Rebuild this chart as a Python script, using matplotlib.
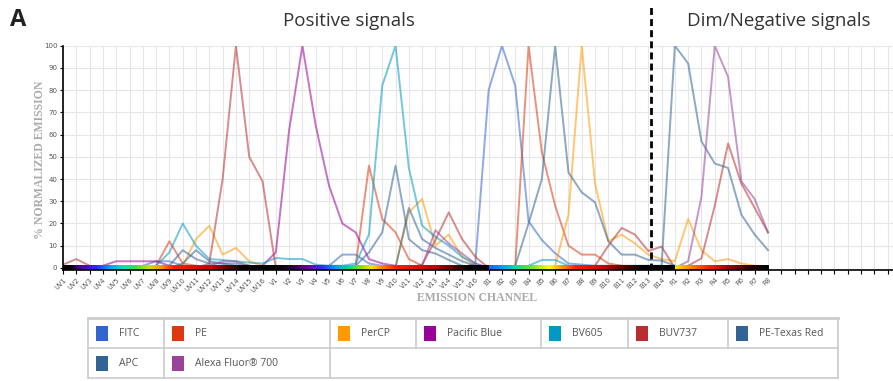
import numpy as np
import matplotlib
matplotlib.use("Agg")
import matplotlib.pyplot as plt
from matplotlib.colors import LinearSegmentedColormap, to_rgb
from matplotlib.patches import Rectangle
from matplotlib.lines import Line2D

# --- channels ---
uv_ch = [f"UV{i}" for i in range(1, 17)]
v_ch = [f"V{i}" for i in range(1, 17)]
b_ch = [f"B{i}" for i in range(1, 15)]
r_ch = [f"R{i}" for i in range(1, 9)]
channels = uv_ch + v_ch + b_ch + r_ch

# --- spectra (% normalized emission), UV | V | B | R ---
fitc = ([0, 0, 0, 0, 0, 0, 1, 3, 3, 1, 0, 0, 0, 0, 0, 0]
        + [0, 0, 0, 0, 1, 6, 6, 2, 1, 0, 0, 0, 0, 0, 0, 2]
        + [80, 100, 82, 21, 12.6, 6.6, 2, 1.5, 1, 1, 1, 1, 1, 1]
        + [0, 0, 0, 0, 0, 0, 0, 0])
pe = ([0, 0, 0, 0, 0, 0, 0, 1, 12, 2, 1, 0, 0, 0, 0, 0]
      + [0, 0, 0, 0, 0, 0, 1, 46, 22, 16, 4, 1, 0, 0, 0, 0]
      + [0, 0, 1, 100, 52, 28, 10, 6, 6, 2, 1, 0, 0, 0]
      + [0, 0, 0, 0, 0, 0, 0, 0])
percp = ([0, 0, 0, 0, 0, 0, 0, 0, 0, 1, 13, 19, 6, 9, 3, 1]
         + [0, 0, 0, 0, 0, 0, 0, 0, 0, 1, 25, 31, 10, 15, 5, 1]
         + [0, 0, 0, 0, 0, 1, 24, 100, 38, 12, 15, 11, 6, 4]
         + [3, 22, 8, 3, 4, 2, 1, 0])
pacific_blue = ([0, 0, 0, 1, 3, 3, 3, 3, 1, 0, 0, 0, 0, 0, 0, 1]
                + [7, 62, 100, 64, 37, 20, 16, 4, 2, 1, 0, 0, 0, 0, 0, 0]
                + [0] * 14
                + [0] * 8)
bv605 = ([0, 0, 0, 0, 0, 0, 0, 1, 7, 20, 10, 4, 3.6, 3, 2.4, 2]
         + [4.5, 4, 4, 1.5, 1, 1, 2, 15, 82, 100, 45, 19, 14, 10, 5, 2]
         + [0, 0, 0, 1, 3.6, 3.6, 1, 0, 0, 0, 0, 0, 0, 0]
         + [0] * 8)
buv737 = ([1.5, 4, 1, 0, 0, 0, 0, 0, 0, 0, 0, 2, 40, 100, 50, 39]
          + [0, 0, 0, 0, 0, 0, 0, 0, 0, 0, 0, 1.5, 12.6, 25, 13, 5]
          + [0, 0, 0, 0, 0, 0, 0, 0, 1, 10, 18, 15, 7.6, 9.6]
          + [0, 1, 4.3, 28, 56, 38, 27, 16])
pe_texas_red = ([0, 0, 0, 0, 0, 0, 0, 0, 1, 8, 4, 2, 2, 2, 1, 0]
                + [0, 0, 0, 0, 0, 0, 1, 7, 16, 46, 13, 8, 6.5, 3.6, 1, 0]
                + [0, 0, 1, 20, 40, 100, 43, 34, 29.5, 12, 6, 6, 3.6, 3.3]
                + [1, 0, 0, 0, 0, 0, 0, 0])
apc = ([0, 0, 0, 0, 0, 0, 0, 0, 0, 2, 8, 3, 2, 1, 0, 0]
       + [0, 0, 0, 0, 0, 0, 0, 0, 0, 0, 27, 13, 9, 6, 3, 1]
       + [0, 0, 0, 0, 0, 0, 0, 0, 0, 0, 0, 0, 0, 1]
       + [100, 92, 57, 47, 45, 24, 15, 8])
alexa700 = ([0, 0, 0, 0, 0, 0, 0, 0, 0, 0, 0, 1, 3, 3, 1, 0]
            + [0, 0, 0, 0, 0, 0, 0, 0, 0, 0, 0, 1, 17, 11, 6.5, 2]
            + [0] * 14
            + [0, 3, 32, 100, 86, 39, 31, 16])

names = ["FITC", "PE", "PerCP", "Pacific Blue", "BV605", "BUV737",
         "PE-Texas Red", "APC", "Alexa Fluor® 700"]
series = [fitc, pe, percp, pacific_blue, bv605, buv737, pe_texas_red, apc, alexa700]
colors = ["#3366cc", "#dc3912", "#ff9900", "#990099", "#0099c6", "#b82e2e",
          "#316395", "#316395", "#994499"]

W, H = 893, 381
fig = plt.figure(figsize=(W / 100, H / 100), dpi=100)

def fx(px):
    return px / W

def fy(py):
    return 1 - py / H

ax = fig.add_axes([fx(63), fy(269.5), fx(W - 63), fy(45.7) - fy(269.5)])
x = np.arange(len(channels))

# grid
for i in range(63):
    ax.axvline(i, color="#e6e6e6", lw=0.8, zorder=0)
for v in range(10, 101, 10):
    ax.axhline(v, color="#e6e6e6", lw=0.8, zorder=0)

for s, c in zip(series, colors):
    ax.plot(x, s, color=c, alpha=0.55, lw=1.4, zorder=2)

# spectral colour strip under the curves
segments = [
    (0, 16, [(0, "#000000"), (0.5, "#000000"), (1.3, "#5500a0"), (2.4, "#3020ff"),
             (3.5, "#00a0ff"), (4.5, "#00e0c0"), (5.5, "#40e040"), (6.5, "#d0e000"),
             (7.4, "#ff9000"), (8.3, "#ff2000"), (11, "#d00000"), (12.4, "#600000"),
             (13.4, "#100000"), (16, "#000000")]),
    (16, 32, [(0, "#000000"), (1, "#200030"), (2.5, "#7000b0"), (3.5, "#3030ff"),
              (4.5, "#00a0ff"), (5.5, "#00e080"), (6.5, "#a0e000"), (7.2, "#ffe000"),
              (8, "#ff8000"), (9, "#ff2000"), (12, "#c00000"), (13.5, "#500000"),
              (14.5, "#000000"), (16, "#000000")]),
    (32, 46, [(0, "#2060ff"), (1, "#00a0ff"), (2, "#00e0a0"), (3, "#60e030"),
              (4.5, "#ffff00"), (5.5, "#ff9000"), (6.5, "#ff2000"), (8.5, "#d00000"),
              (10, "#600000"), (11.5, "#000000"), (14, "#000000")]),
    (46, 53, [(0, "#ffe000"), (1, "#ff9000"), (2.5, "#ff2000"), (4, "#a00000"),
              (5.5, "#300000"), (7, "#000000")]),
]
for a, b, stops in segments:
    span = b - a
    cmap = LinearSegmentedColormap.from_list(
        "seg", [(p / span, to_rgb(c)) for p, c in stops])
    grad = np.linspace(0, 1, 400).reshape(1, -1)
    ax.imshow(grad, cmap=cmap, aspect="auto", extent=[a, b, -0.7, 1.4],
              zorder=3, interpolation="bilinear")

ax.set_xlim(0, 62.4)
ax.set_ylim(-0.7, 100)

# dashed separator between positive and dim/negative
ax.plot([44.2, 44.2], [-0.7, 118], color="black", lw=2, ls=(0, (2.5, 1.5)),
        clip_on=False, zorder=5)

for side in ["top", "right"]:
    ax.spines[side].set_visible(False)
ax.spines["left"].set_linewidth(1.2)
ax.spines["bottom"].set_linewidth(1.2)
ax.spines["left"].set_zorder(6)
ax.spines["bottom"].set_zorder(6)

ax.set_xticks(np.arange(63))
ax.set_xticklabels(channels + [""] * (63 - len(channels)), rotation=45,
                   ha="right", rotation_mode="anchor", fontsize=4.8, color="#555555")
ax.set_yticks(np.arange(0, 101, 10))
ax.set_yticklabels([str(v) for v in range(0, 101, 10)], fontsize=5, color="#555555")
ax.tick_params(axis="x", length=3, width=0.8, pad=2)
ax.tick_params(axis="y", length=2, width=0.8, pad=2)

fig.text(fx(40), fy(160), "% NORMALIZED EMISSION", rotation=90, ha="center",
         va="center", family="Liberation Serif", fontweight="bold", fontsize=8.5,
         color="#aaaaaa")
fig.text(fx(477), fy(298), "EMISSION CHANNEL", ha="center", va="center",
         family="Liberation Serif", fontweight="bold", fontsize=8.5, color="#aaaaaa")

fig.text(fx(10), fy(20), "A", ha="left", va="center", fontsize=17,
         fontweight="bold", color="#222222", family="Open Sans")
fig.text(fx(349), fy(21), "Positive signals", ha="center", va="center",
         fontsize=13.5, color="#333333", family="Open Sans")
fig.text(fx(779), fy(21), "Dim/Negative signals", ha="center", va="center",
         fontsize=13.5, color="#333333", family="Open Sans")

# legend table
top, mid, bot = 318, 348, 378
left, right = 88, 838
row1 = [88, 164, 330, 416, 541, 628, 728, 838]
row2 = [88, 164, 330]
bc = "#cccccc"

def hline(x0, x1, y, lw=1.2):
    fig.add_artist(Line2D([fx(x0), fx(x1)], [fy(y), fy(y)], color=bc, lw=lw))

def vline(xp, y0, y1, lw=1.2):
    fig.add_artist(Line2D([fx(xp), fx(xp)], [fy(y0), fy(y1)], color=bc, lw=lw))

hline(left, right, top, lw=2)
hline(left, right, mid)
hline(left, right, bot)
for xp in row1:
    vline(xp, top, mid)
for xp in row2:
    vline(xp, mid, bot)
vline(right, mid, bot)

cells = [(row1[i], top) for i in range(7)] + [(row2[0], mid), (row2[1], mid)]
for (cx, cy), name, c in zip(cells, names, colors):
    fig.add_artist(Rectangle((fx(cx + 8), fy(cy + 23)), 12 / W, 15 / H,
                             facecolor=c, edgecolor="none"))
    fig.text(fx(cx + 31), fy(cy + 16), name, ha="left", va="center",
             fontsize=7.5, color="#555555", family="Open Sans")

fig.savefig("out.png", dpi=100)
